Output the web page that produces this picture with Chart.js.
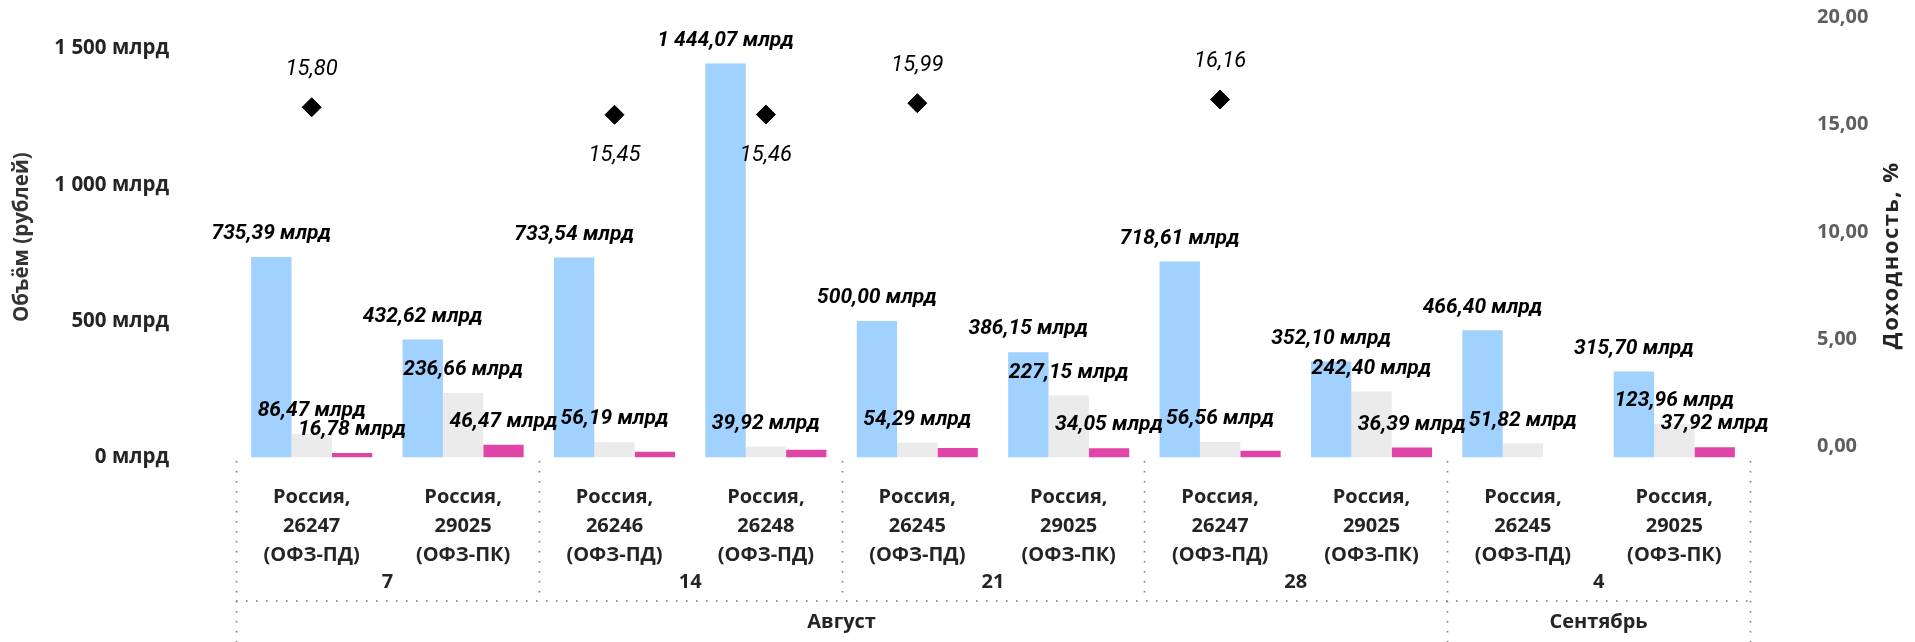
<!DOCTYPE html>
<html lang="ru">
<head>
<meta charset="utf-8">
<title>Аукционы ОФЗ: объёмы и доходность</title>
<script src="https://cdn.jsdelivr.net/npm/chart.js@4.4.1/dist/chart.umd.min.js"></script>
<style>
  html, body { margin: 0; padding: 0; background: #ffffff; }
  #wrap { width: 1915px; height: 642px; }
  canvas { display: block; }
</style>
</head>
<body>
<div id="wrap"><canvas id="c" width="1915" height="642"></canvas></div>
<script>
// ---- data ----
const categories = [
  'Россия, 26247 (ОФЗ-ПД)', 'Россия, 29025 (ОФЗ-ПК)',
  'Россия, 26246 (ОФЗ-ПД)', 'Россия, 26248 (ОФЗ-ПД)',
  'Россия, 26245 (ОФЗ-ПД)', 'Россия, 29025 (ОФЗ-ПК)',
  'Россия, 26247 (ОФЗ-ПД)', 'Россия, 29025 (ОФЗ-ПК)',
  'Россия, 26245 (ОФЗ-ПД)', 'Россия, 29025 (ОФЗ-ПК)'
];
const days   = ['7', '7', '14', '14', '21', '21', '28', '28', '4', '4'];
const months = ['Август', 'Август', 'Август', 'Август', 'Август', 'Август', 'Август', 'Август', 'Сентябрь', 'Сентябрь'];

// volumes, bn rubles
const demand     = [735.39, 432.62, 733.54, 1444.07, 500.00, 386.15, 718.61, 352.10, 466.40, 315.70];
const placed     = [86.47, 236.66, 56.19, 39.92, 54.29, 227.15, 56.56, 242.40, 51.82, 123.96];
const additional = [16.78, 46.47, 21, 28, 35, 34.05, 25, 36.39, null, 37.92];
// weighted average yield, %
const yields     = [15.80, null, 15.45, 15.46, 15.99, null, 16.16, null, null, null];

const volumeTicks = [0, 500, 1000, 1500];
const yieldTicks  = [0, 5, 10, 15, 20];

// ---- styles ----
const INK = '#252423';
const GRAY_TXT = '#605E5C';
const BLUE = '#A0D1FF';
const LIGHT = '#EBEBEB';
const PINK = '#E044A7';

const LABEL_FONT = 'italic bold 21px Roboto';
const YIELD_FONT = 'italic 22px Roboto';
const AXIS_FONT = 'bold 20px "Open Sans"';

function fmtNum(v) {
  const parts = v.toFixed(2).split('.');
  parts[0] = parts[0].replace(/\B(?=(\d{3})+(?!\d))/g, ' ');
  return parts[0] + ',' + parts[1];
}

// value labels above the bars; a label that would collide with one already
// drawn in the same category is skipped
const barLabels = {
  id: 'barLabels',
  afterDatasetsDraw(chart) {
    const ctx = chart.ctx;
    ctx.save();
    ctx.font = LABEL_FONT;
    ctx.fillStyle = '#000';
    ctx.textAlign = 'center';
    ctx.textBaseline = 'middle';
    const barSets = [0, 1, 2];
    for (let i = 0; i < categories.length; i++) {
      const placedBoxes = [];
      for (const d of barSets) {
        const v = chart.data.datasets[d].data[i];
        if (v == null) continue;
        const el = chart.getDatasetMeta(d).data[i];
        const txt = fmtNum(v) + ' млрд';
        const w = ctx.measureText(txt).width;
        const cy = el.y - 23;
        const box = { l: el.x - w / 2, r: el.x + w / 2, t: cy - 9, b: cy + 9 };
        const hit = placedBoxes.some(b => box.l < b.r && box.r > b.l && box.t < b.b && box.b > b.t);
        if (hit) continue;
        placedBoxes.push(box);
        ctx.fillText(txt, el.x, cy);
      }
    }
    ctx.restore();
  }
};

// yield values next to the diamonds: above the marker, below it when the
// following category carries a marker as well
const yieldLabels = {
  id: 'yieldLabels',
  afterDatasetsDraw(chart) {
    const ctx = chart.ctx;
    const meta = chart.getDatasetMeta(3);
    ctx.save();
    ctx.font = YIELD_FONT;
    ctx.fillStyle = '#000';
    ctx.textAlign = 'center';
    ctx.textBaseline = 'middle';
    yields.forEach((v, i) => {
      if (v == null) return;
      const p = meta.data[i];
      const crowded = i + 1 < yields.length && yields[i + 1] != null;
      ctx.fillText(fmtNum(v), p.x, crowded ? p.y + 41 : p.y - 38);
    });
    ctx.restore();
  }
};

// hierarchical category axis: bond / day / month with dotted separators
const hierAxis = {
  id: 'hierAxis',
  afterDraw(chart) {
    const ctx = chart.ctx;
    const xs = chart.scales.x;
    const area = chart.chartArea;
    const half = (xs.getPixelForValue(1) - xs.getPixelForValue(0)) / 2;
    const left = i => xs.getPixelForValue(i) - half;
    const right = i => xs.getPixelForValue(i) + half;
    const sepTop = area.bottom + 3.5;
    const dayLine = area.bottom + 143.5;
    const bottom = chart.height;

    ctx.save();
    ctx.fillStyle = INK;
    ctx.textAlign = 'center';
    ctx.textBaseline = 'middle';
    ctx.font = AXIS_FONT;

    // bond names, one word per line
    categories.forEach((c, i) => {
      const cx = xs.getPixelForValue(i);
      c.split(' ').forEach((w, k) => ctx.fillText(w, cx, area.bottom + 39.5 + k * 29));
    });

    function spans(keys) {
      const out = [];
      let s = 0;
      for (let i = 1; i <= keys.length; i++) {
        if (i === keys.length || keys[i] !== keys[s]) { out.push([s, i - 1]); s = i; }
      }
      return out;
    }
    const daySpans = spans(days.map((d, i) => months[i] + '|' + d));
    const monthSpans = spans(months);

    daySpans.forEach(([a, b]) => {
      ctx.fillText(days[a], (left(a) + right(b)) / 2, area.bottom + 124.5);
    });
    monthSpans.forEach(([a, b]) => {
      ctx.fillText(months[a], (left(a) + right(b)) / 2, area.bottom + 165);
    });

    // dotted separators
    ctx.strokeStyle = '#7a7a7a';
    ctx.lineWidth = 1.6;
    ctx.setLineDash([1.6, 8.4]);
    const dotted = (x1, y1, x2, y2) => {
      ctx.beginPath();
      ctx.moveTo(x1, y1);
      ctx.lineTo(x2, y2);
      ctx.stroke();
    };
    const monthEdges = new Set();
    monthSpans.forEach(([a, b]) => { monthEdges.add(Math.round(left(a))); monthEdges.add(Math.round(right(b))); });
    const dayEdges = new Set();
    daySpans.forEach(([a, b]) => { dayEdges.add(Math.round(left(a))); dayEdges.add(Math.round(right(b))); });
    dayEdges.forEach(x => {
      const full = monthEdges.has(x);
      dotted(x + 0.5, sepTop, x + 0.5, full ? bottom : dayLine);
    });
    dotted(Math.round(left(0)), dayLine, Math.round(right(categories.length - 1)), dayLine);
    ctx.restore();
  }
};

// rotated axis titles
const axisTitles = {
  id: 'axisTitles',
  afterDraw(chart) {
    const ctx = chart.ctx;
    const area = chart.chartArea;
    const mid = (area.top + area.bottom) / 2;
    ctx.save();
    ctx.font = 'bold 20.5px "Open Sans"';
    ctx.textAlign = 'center';
    ctx.textBaseline = 'middle';
    ctx.fillStyle = '#333333';
    ctx.translate(22, mid);
    ctx.rotate(-Math.PI / 2);
    ctx.fillText('Объём (рублей)', 0, 0);
    ctx.restore();

    ctx.save();
    ctx.font = 'bold 22px "Open Sans"';
    ctx.letterSpacing = '1.5px';
    ctx.textAlign = 'center';
    ctx.textBaseline = 'middle';
    ctx.fillStyle = INK;
    ctx.translate(chart.width - 23, mid + 18);
    ctx.rotate(-Math.PI / 2);
    ctx.fillText('Доходность, %', 0, 0);
    ctx.restore();
  }
};

// side axes: labels sit far from the plot edge, without extra vertical padding
const fitSide = w => s => { s.width = w; s.paddingTop = 0; s.paddingBottom = 0; };

new Chart(document.getElementById('c'), {
  type: 'bar',
  data: {
    labels: categories,
    datasets: [
      { label: 'Спрос', data: demand, backgroundColor: BLUE, yAxisID: 'y', order: 2 },
      { label: 'Размещение', data: placed, backgroundColor: LIGHT, yAxisID: 'y', order: 2 },
      { label: 'Доразмещение', data: additional, backgroundColor: PINK, yAxisID: 'y', order: 2 },
      {
        type: 'line', label: 'Доходность', data: yields, yAxisID: 'y1', order: 1,
        showLine: false, pointStyle: 'rectRot', pointRadius: 9.5, pointHoverRadius: 9.5,
        backgroundColor: '#000', borderColor: '#000', pointBorderWidth: 1
      }
    ]
  },
  options: {
    responsive: false,
    devicePixelRatio: 1,
    animation: false,
    events: [],
    layout: { autoPadding: false, padding: { top: 17, bottom: 184.5, left: 0, right: 0 } },
    datasets: { bar: { categoryPercentage: 0.8, barPercentage: 1.0 } },
    plugins: { legend: { display: false }, tooltip: { enabled: false }, title: { display: false } },
    scales: {
      x: { type: 'category', display: false, offset: true },
      y: {
        position: 'left', min: 0, max: 1615,
        grid: { display: false, drawTicks: false }, border: { display: false },
        afterBuildTicks: s => { s.ticks = volumeTicks.map(v => ({ value: v })); },
        afterFit: fitSide(236),
        ticks: {
          padding: 67, color: INK,
          font: { family: 'Open Sans', weight: 'bold', size: 20.5 },
          callback: v => String(v).replace(/\B(?=(\d{3})+(?!\d))/g, ' ') + ' млрд'
        }
      },
      y1: {
        position: 'right', min: -0.5, max: 20,
        grid: { display: false, drawTicks: false }, border: { display: false },
        afterBuildTicks: s => { s.ticks = yieldTicks.map(v => ({ value: v })); },
        afterFit: fitSide(165),
        ticks: {
          padding: 67, color: GRAY_TXT,
          font: { family: 'Open Sans', weight: 'bold', size: 20 },
          callback: v => v.toFixed(2).replace('.', ',')
        }
      }
    }
  },
  plugins: [barLabels, yieldLabels, hierAxis, axisTitles]
});
</script>
</body>
</html>
